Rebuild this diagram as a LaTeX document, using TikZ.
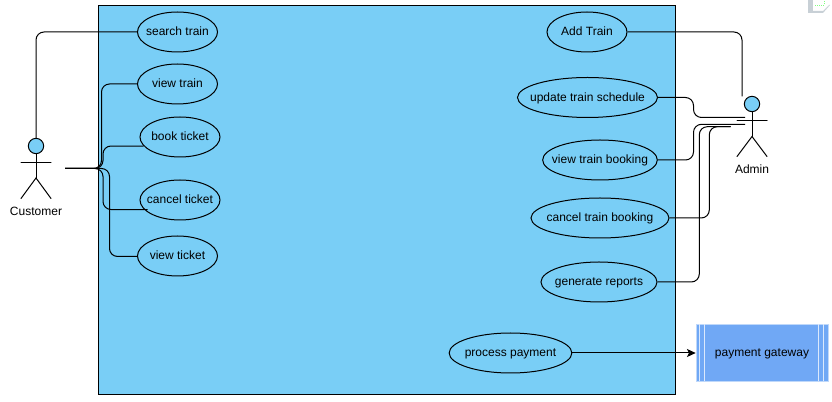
\documentclass[tikz,border=0pt]{standalone}
\usepackage{fontspec}
\setmainfont{Liberation Sans}
\usetikzlibrary{arrows.meta, shapes, calc}
\definecolor{sysblue}{HTML}{79CEF6}
\definecolor{gatewayblue}{HTML}{70A8F5}
\definecolor{iconcolor}{HTML}{C8D0D6}
\tikzset{
  usecase/.style={ellipse, draw, fill=sysblue, line width=0.75pt, inner xsep=-30pt, inner ysep=-5pt, minimum height=30pt, text height=7.4pt, text depth=2pt, font=\fontsize{9}{11}\selectfont},
  label/.style={inner sep=0pt, text height=7.4pt, text depth=2pt, font=\fontsize{9}{11}\selectfont},
  conn/.style={line width=0.75pt, rounded corners=6pt},
  limb/.style={line width=0.75pt, line cap=round},
  head/.style={circle, draw, fill=sysblue, line width=0.75pt, inner sep=0pt, minimum size=11.5pt},
  gatewayline/.style={draw=white!75!gatewayblue, line width=0.75pt}
}

\begin{document}
\begin{tikzpicture}[x=0.75pt, y=-0.75pt]
  \useasboundingbox (0,0) rectangle (832,402);

  % system box
  \fill[sysblue] (98.5,5.5) rectangle (675.5,394.5);
  \draw[line width=0.75pt] (98.5,5.5) rectangle (675.5,394.5);

  % small page icon
  \fill[iconcolor] (808,0) rectangle (813,13);
  \fill[iconcolor] (813,11) -- (823,11) -- (829,5) -- (830,5) -- (823,13) -- (813,13) -- cycle;
  \draw[green!50!white, densely dotted, line width=0.5pt] (815,5) -- (824,5) -- (824,0);

  % customer side use cases
  \node[usecase, minimum width=60pt] (searchtrain) at (177.5,32) {search train};
  \node[usecase, minimum width=60pt] (viewtrain) at (177.5,84) {view train};
  \node[usecase, minimum width=60pt] (bookticket) at (180,137) {book ticket};
  \node[usecase, minimum width=60pt] (cancelticket) at (180,200) {cancel ticket};
  \node[usecase, minimum width=60pt] (viewticket) at (177.5,256) {view ticket};

  % admin side use cases
  \node[usecase, minimum width=60pt] (addtrain) at (587,32) {Add Train};
  \node[usecase, minimum width=105pt] (updateschedule) at (587.5,97.5) {update train schedule};
  \node[usecase, minimum width=86pt] (viewbooking) at (600,160) {view train booking};
  \node[usecase, minimum width=103.5pt] (cancelbooking) at (600,218) {cancel train booking};
  \node[usecase, minimum width=87pt] (genreports) at (599,282) {generate reports};
  \node[usecase, minimum width=92pt] (processpayment) at (510.5,353) {process payment};

  % external system
  \node[rectangle, fill=gatewayblue, draw=white!55!gatewayblue, line width=0.5pt, minimum width=99pt, minimum height=42.75pt, inner sep=0pt, text height=7.4pt, text depth=2pt, font=\fontsize{9}{11}\selectfont] (gateway) at (762,353) {payment gateway};
  \draw[gatewayline] (699.5,324.5) -- (699.5,381.5);
  \draw[gatewayline] (704.5,324.5) -- (704.5,381.5);
  \draw[gatewayline] (818,324.5) -- (818,381.5);
  \draw[gatewayline] (823,324.5) -- (823,381.5);

  % customer actor
  \begin{scope}[shift={(36,146)}]
    \node[head] (customerhead) at (0,0) {};
    \draw[limb] (customerhead) -- (0,32);
    \draw[limb] (-15,16.5) -- (15,16.5);
    \draw[limb] (-15,52.5) -- (0,32) -- (15,52.5);
    \node[label] (customer) at (0,66) {Customer};
  \end{scope}

  % admin actor
  \begin{scope}[shift={(752,104)}]
    \node[head] (adminhead) at (0,0) {};
    \draw[limb] (adminhead) -- (0,32.5);
    \draw[limb] (-15,16.5) -- (15,16.5);
    \draw[limb] (-15,52.5) -- (0,32.5) -- (15,52.5);
    \node[label] (admin) at (0,66) {Admin};
  \end{scope}

  % free line ends near the actors
  \coordinate (custport) at (65,168.5);
  \coordinate (adminadd) at (742,96.5);
  \coordinate (adminupper) at (745,117.5);
  \coordinate (adminmid) at (745,124.3);
  \coordinate (adminlower) at (730.7,126.7);

  % customer connectors
  \draw[conn] (searchtrain) -| (customerhead);
  \draw[conn] (custport) -| (101.5,84) -- (viewtrain);
  \draw[conn] (custport) -| (103,146) -- (bookticket.194);
  \draw[conn] (custport) -| (103,209.5) -- ($(cancelticket.195)+(3.4,0)$);
  \draw[conn] (custport) -| (109.5,256.5) -- (viewticket);

  % admin connectors
  \draw[conn] (addtrain) -| (adminadd);
  \draw[conn] (updateschedule) -| (693.5,117.5) -- (adminupper);
  \draw[conn] (viewbooking) -| (693.5,124.3) -- (adminmid);
  \draw[conn] (cancelbooking) -| (709.3,126.7) -- (adminlower);
  \draw[conn] (genreports) -| (699.3,126.7) -- (adminlower);

  % payment arrow
  \draw[conn, -{Stealth[length=6.5pt, width=6pt, inset=1.5pt]}] (processpayment) -- (gateway);
\end{tikzpicture}
\end{document}
